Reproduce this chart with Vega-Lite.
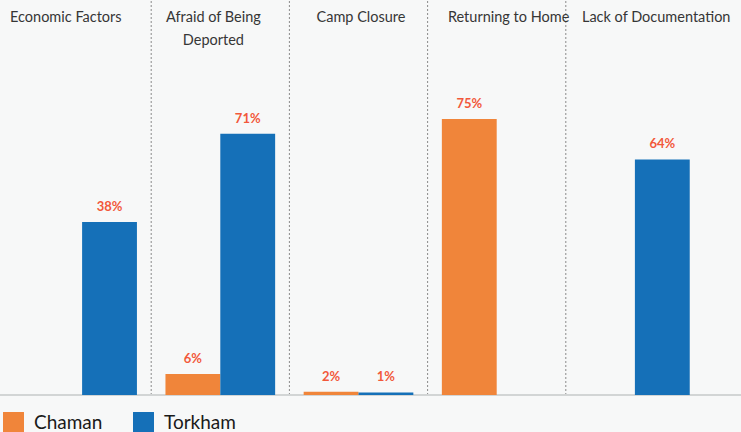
{
  "$schema": "https://vega.github.io/schema/vega-lite/v6.json",
  "width": 741,
  "height": 432,
  "padding": 0,
  "autosize": {"type": "none"},
  "background": "#f7f8f8",
  "config": {"view": {"stroke": null}, "font": "Lato"},
  "datasets": {
    "bars": [
      {"cat": "Economic Factors", "site": "Torkham", "value": 47, "label": "38%"},
      {"cat": "Afraid of Being Deported", "site": "Chaman", "value": 5.7, "label": "6%"},
      {"cat": "Afraid of Being Deported", "site": "Torkham", "value": 71, "label": "71%"},
      {"cat": "Camp Closure", "site": "Chaman", "value": 0.9, "label": "2%"},
      {"cat": "Camp Closure", "site": "Torkham", "value": 0.7, "label": "1%"},
      {"cat": "Returning to Home", "site": "Chaman", "value": 75, "label": "75%"},
      {"cat": "Lack of Documentation", "site": "Torkham", "value": 64, "label": "64%"}
    ],
    "heads": [
      {"cat": "Economic Factors", "title": "Economic Factors"},
      {"cat": "Afraid of Being Deported", "title": "Afraid of Being\nDeported"},
      {"cat": "Camp Closure", "title": "Camp Closure"},
      {"cat": "Returning to Home", "title": "Returning to Home"},
      {"cat": "Lack of Documentation", "title": "Lack of Documentation"}
    ],
    "seps": [
      {"cat": "Afraid of Being Deported"},
      {"cat": "Camp Closure"},
      {"cat": "Returning to Home"},
      {"cat": "Lack of Documentation"}
    ]
  },
  "resolve": {"scale": {"x": "independent"}},
  "layer": [
    {
      "layer": [
        {
          "data": {"name": "seps"},
          "mark": {"type": "rule", "stroke": "#8a8a8a", "strokeWidth": 1, "strokeDash": [2, 2]},
          "encoding": {
            "x": {
              "field": "cat", "type": "nominal", "axis": null, "bandPosition": 0,
              "scale": {
                "domain": ["Economic Factors", "Afraid of Being Deported", "Camp Closure", "Returning to Home", "Lack of Documentation"],
                "range": [13, 704], "paddingInner": 0, "paddingOuter": 0
              }
            },
            "y": {"datum": 0, "type": "quantitative", "scale": {"domain": [0, 100], "range": [395, 27]}, "axis": null},
            "y2": {"datum": 108}
          }
        },
        {
          "data": {"name": "bars"},
          "mark": {"type": "rule", "stroke": "#d2d4d4", "strokeWidth": 1.5},
          "encoding": {"y": {"datum": 0, "type": "quantitative"}}
        },
        {
          "data": {"name": "bars"},
          "mark": {"type": "bar", "cornerRadius": 0},
          "encoding": {
            "x": {"field": "cat", "type": "nominal"},
            "xOffset": {"field": "site", "type": "nominal", "scale": {"domain": ["Chaman", "Torkham"], "paddingInner": 0, "paddingOuter": 0.26}},
            "y": {"field": "value", "type": "quantitative"},
            "color": {
              "field": "site", "type": "nominal",
              "scale": {"domain": ["Chaman", "Torkham"], "range": ["#f0853a", "#1570b8"]},
              "legend": {
                "title": null, "orient": "none", "legendX": 3, "legendY": 412,
                "direction": "horizontal", "symbolType": "square", "symbolSize": 440,
                "symbolStrokeWidth": 0, "symbolOpacity": 1,
                "labelFontSize": 19, "labelColor": "#1a1a1a", "labelOffset": 10,
                "columnPadding": 30, "labelFont": "Lato"
              }
            }
          }
        },
        {
          "data": {"name": "bars"},
          "mark": {"type": "text", "fontWeight": "bold", "fontSize": 13, "fill": "#f2583b", "baseline": "middle", "dy": -15},
          "encoding": {
            "x": {"field": "cat", "type": "nominal"},
            "xOffset": {"field": "site", "type": "nominal"},
            "y": {"field": "value", "type": "quantitative"},
            "text": {"field": "label"}
          }
        }
      ]
    },
    {
      "data": {"name": "heads"},
      "mark": {"type": "text", "fontSize": 14.5, "fill": "#363636", "baseline": "top", "align": "center", "lineBreak": "\n", "lineHeight": 23},
      "encoding": {
        "x": {
          "field": "cat", "type": "nominal", "axis": null,
          "scale": {
            "domain": ["Economic Factors", "Afraid of Being Deported", "Camp Closure", "Returning to Home", "Lack of Documentation"],
            "range": [-8, 730], "paddingInner": 0, "paddingOuter": 0
          }
        },
        "y": {"datum": 104.3, "type": "quantitative"},
        "text": {"field": "title"}
      }
    }
  ]
}
